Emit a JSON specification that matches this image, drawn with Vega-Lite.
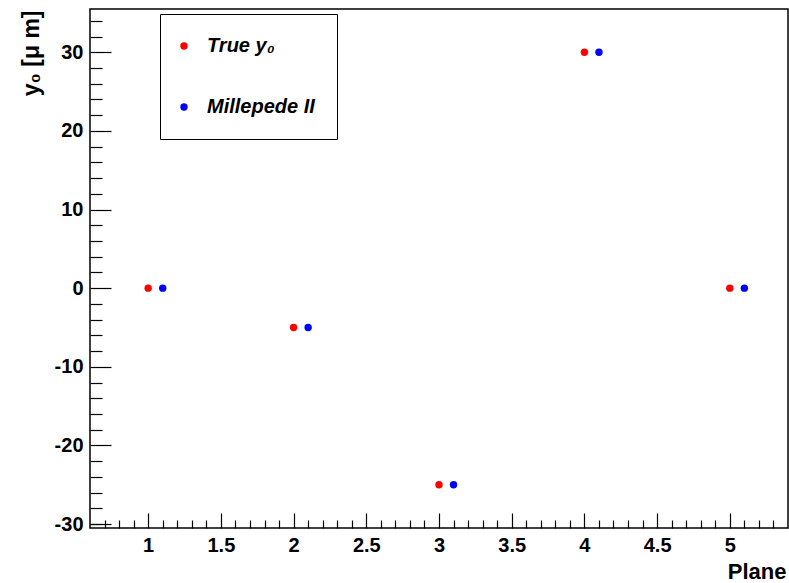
{
  "$schema": "https://vega.github.io/schema/vega-lite/v6.json",
  "autosize": {"type": "none"},
  "padding": {"left": 90, "top": 9, "right": 1, "bottom": 55},
  "width": 698,
  "height": 519,
  "background": "white",
  "config": {
    "view": {"stroke": "black", "strokeWidth": 1.5},
    "font": "Liberation Sans",
    "axis": {"grid": false, "domain": false, "labelFont": "Liberation Sans", "labelFontWeight": "bold", "labelFontSize": 20, "labelColor": "black", "titleFont": "Liberation Sans", "titleFontWeight": "bold", "titleFontSize": 22, "titleColor": "black", "tickColor": "black", "tickWidth": 1.2}
  },
  "data": {"values": [
    {"plane": 1.0, "y0": 0, "series": "True y₀"},
    {"plane": 2.0, "y0": -5, "series": "True y₀"},
    {"plane": 3.0, "y0": -25, "series": "True y₀"},
    {"plane": 4.0, "y0": 30, "series": "True y₀"},
    {"plane": 5.0, "y0": 0, "series": "True y₀"},
    {"plane": 1.1, "y0": 0, "series": "Millepede II"},
    {"plane": 2.1, "y0": -5, "series": "Millepede II"},
    {"plane": 3.1, "y0": -25, "series": "Millepede II"},
    {"plane": 4.1, "y0": 30, "series": "Millepede II"},
    {"plane": 5.1, "y0": 0, "series": "Millepede II"}
  ]},
  "layer": [
    {
      "mark": {"type": "circle", "size": 55, "opacity": 1},
      "encoding": {
        "x": {"field": "plane", "type": "quantitative", "scale": {"domain": [0.6, 5.4], "nice": false, "zero": false},
          "axis": {"orient": "bottom", "values": [1, 1.5, 2, 2.5, 3, 3.5, 4, 4.5, 5], "format": "~g", "tickSize": -15, "labelPadding": 22, "title": "Plane", "titleAnchor": "end", "titleAlign": "right", "titleBaseline": "alphabetic", "titleX": 696, "titleY": 50}},
        "y": {"field": "y0", "type": "quantitative", "scale": {"domain": [-30.5, 35.5], "nice": false, "zero": false},
          "axis": {"orient": "left", "values": [-30, -20, -10, 0, 10, 20, 30], "labelExpr": "'' + datum.value", "tickSize": -21, "labelPadding": 28, "title": "y₀ [μ m]", "titleFontSize": 23, "titleAngle": 270, "titleAlign": "right", "titleBaseline": "alphabetic", "titleX": -52, "titleY": 1}},
        "color": {"field": "series", "type": "nominal", "scale": {"domain": ["True y₀", "Millepede II"], "range": ["#ff0000", "#0000ff"]},
          "legend": {"title": null, "orient": "none", "legendX": 70, "legendY": 5, "strokeColor": "black", "fillColor": "white", "padding": 22, "rowPadding": 41, "symbolType": "circle", "symbolSize": 55, "symbolStrokeWidth": 0, "symbolOffset": -8, "labelFont": "Liberation Sans", "labelFontSize": 20, "labelFontWeight": "bold", "labelFontStyle": "italic", "labelColor": "black", "labelOffset": 13, "labelLimit": 300}}
      }
    },
    {
      "mark": {"type": "circle", "size": 0, "opacity": 0},
      "encoding": {
        "x": {"field": "plane", "type": "quantitative",
          "axis": {"orient": "bottom", "values": [0.7, 0.8, 0.9, 1.1, 1.2, 1.3, 1.4, 1.6, 1.7, 1.8, 1.9, 2.1, 2.2, 2.3, 2.4, 2.6, 2.7, 2.8, 2.9, 3.1, 3.2, 3.3, 3.4, 3.6, 3.7, 3.8, 3.9, 4.1, 4.2, 4.3, 4.4, 4.6, 4.7, 4.8, 4.9, 5.1, 5.2, 5.3], "labels": false, "tickSize": -8, "title": null}},
        "y": {"field": "y0", "type": "quantitative",
          "axis": {"orient": "left", "values": [-30, -28, -26, -24, -22, -18, -16, -14, -12, -8, -6, -4, -2, 2, 4, 6, 8, 12, 14, 16, 18, 22, 24, 26, 28, 32, 34], "labels": false, "tickSize": -12, "title": null}}
      }
    }
  ],
  "resolve": {"axis": {"x": "independent", "y": "independent"}}
}
